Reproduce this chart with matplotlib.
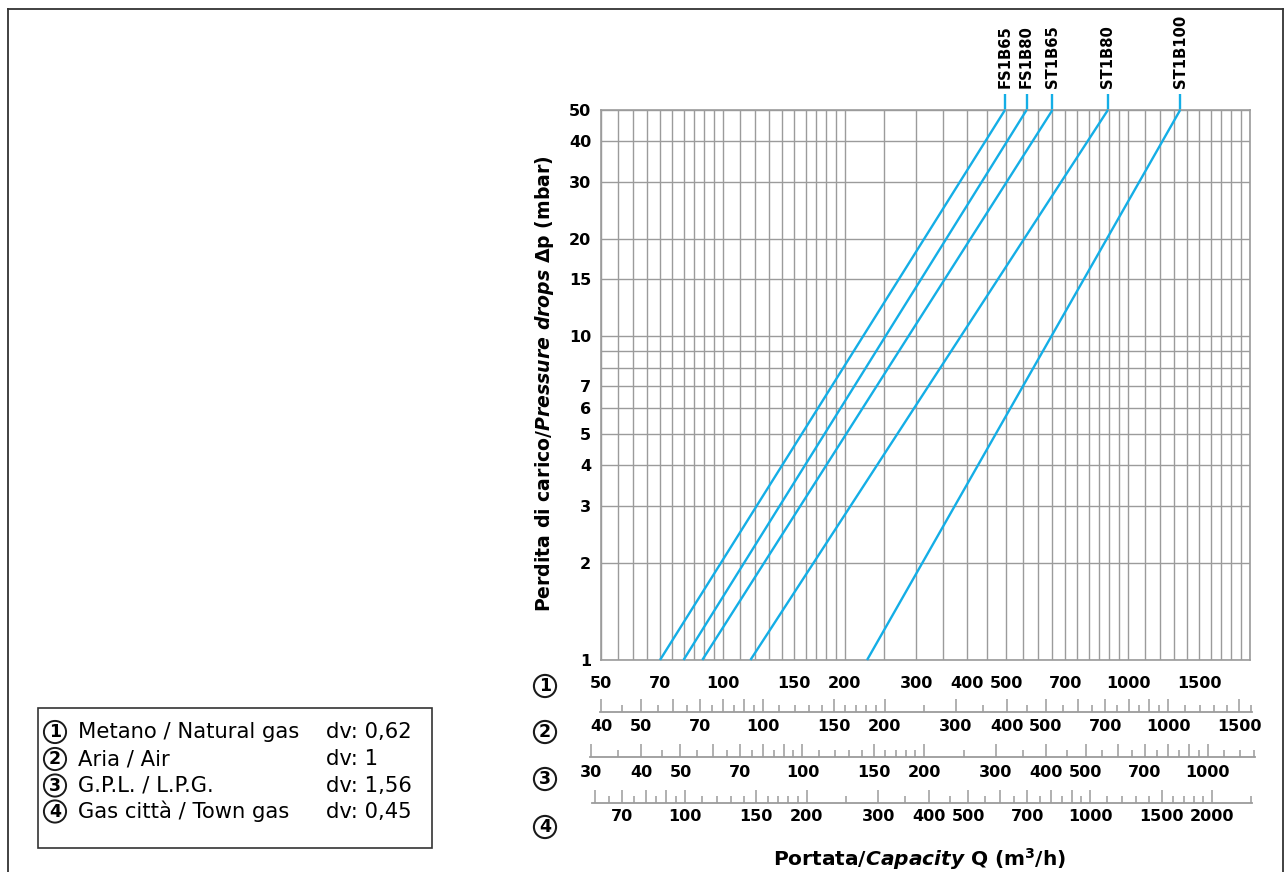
import matplotlib
matplotlib.use("Agg")
import matplotlib.pyplot as plt
from matplotlib.transforms import blended_transform_factory
from matplotlib.ticker import NullFormatter, NullLocator
from matplotlib.patches import Rectangle
from matplotlib.lines import Line2D

plt.rcParams["font.family"] = ["DejaVu Sans"]
plt.rcParams["mathtext.fontset"] = "custom"
plt.rcParams["mathtext.rm"] = "DejaVu Sans:bold"
plt.rcParams["mathtext.bf"] = "DejaVu Sans:bold"
plt.rcParams["mathtext.it"] = "DejaVu Sans:italic:bold"

# --- data -------------------------------------------------------------
models = ["FS1B65", "FS1B80", "ST1B65", "ST1B80", "ST1B100"]
q_at_1mbar = [70, 80, 89, 117, 227]        # m3/h natural gas at 1 mbar
q_at_50mbar = [497, 562, 651, 892, 1345]   # m3/h natural gas at 50 mbar
dp_ends = [1, 50]

dp_ticks = [1, 2, 3, 4, 5, 6, 7, 8, 9, 10, 15, 20, 30, 40, 50]
dp_labels = ["1", "2", "3", "4", "5", "6", "7", "", "", "10", "15", "20", "30", "40", "50"]

gas_names = ["Metano / Natural gas", "Aria / Air", "G.P.L. / L.P.G.", "Gas città / Town gas"]
gas_dv = ["0,62", "1", "1,56", "0,45"]
# flow of each gas for the same pressure drop, relative to natural gas
scale_factor = [1.0, 0.797, 0.636, 1.24]
scale_labels = [
    [50, 70, 100, 150, 200, 300, 400, 500, 700, 1000, 1500],
    [40, 50, 70, 100, 150, 200, 300, 400, 500, 700, 1000, 1500],
    [30, 40, 50, 70, 100, 150, 200, 300, 400, 500, 700, 1000],
    [70, 100, 150, 200, 300, 400, 500, 700, 1000, 1500, 2000],
]
major_mant = [1, 1.5, 2, 3, 4, 5, 6, 7, 8, 9]
minor_mant = [1.1, 1.2, 1.3, 1.4, 1.6, 1.7, 1.8, 1.9,
              2.5, 3.5, 4.5, 5.5, 6.5, 7.5, 8.5, 9.5]

q_grid = (list(range(50, 100, 5)) + list(range(100, 200, 10))
          + list(range(200, 1000, 50)) + list(range(1000, 2001, 100)))

# --- layout helpers (pixels of the 1287x872 picture) ------------------
W, H = 1287, 872
AX_L, AX_R, AX_T, AX_B = 600.8, 1250, 110, 660
QMIN, QMAX = 50, 2000
GRID = "#9b9b9b"
BLUE = "#14aee6"


def fx(px):
    return px / W


def fy(py):
    return 1 - py / H


def px_to_q(px):
    return QMIN * (QMAX / QMIN) ** ((px - AX_L) / (AX_R - AX_L))


fig = plt.figure(figsize=(W / 100, H / 100), dpi=100)

ax = fig.add_axes([fx(AX_L), fy(AX_B), (AX_R - AX_L) / W, (AX_B - AX_T) / H])
ax.set_xscale("log")
ax.set_yscale("log")
ax.set_xlim(QMIN, QMAX)
ax.set_ylim(dp_ends[0], dp_ends[1])
ax.set_xticks(q_grid)
ax.xaxis.set_major_formatter(NullFormatter())
ax.xaxis.set_minor_locator(NullLocator())
ax.set_yticks(dp_ticks, labels=dp_labels)
ax.yaxis.set_minor_locator(NullLocator())
ax.tick_params(length=0)
ax.tick_params(axis="y", pad=7, labelsize=11.5)
for lab in ax.get_yticklabels():
    lab.set_fontweight("bold")
ax.grid(True, color=GRID, lw=1.0)
for sp in ax.spines.values():
    sp.set_color(GRID)
    sp.set_linewidth(1.2)

trans = blended_transform_factory(ax.transData, ax.transAxes)
for name, q1, q50 in zip(models, q_at_1mbar, q_at_50mbar):
    ax.plot([q1, q50], dp_ends, color=BLUE, lw=1.7, clip_on=False,
            solid_capstyle="butt", zorder=3)
    ax.plot([q50, q50], [1, 1 + 16 / 550], color=BLUE, lw=1.7,
            transform=trans, clip_on=False, solid_capstyle="butt")
    ax.text(q50, 1 + 22 / 550, name, transform=trans, rotation=90,
            ha="center", va="bottom", fontsize=10.6, fontweight="bold")

# --- the four flow scales under the chart -----------------------------
row_rule_y = [AX_B, 712, 757, 802.5]
row_left = [AX_L, 600, 590, 592]
row_right = [AX_R, 1252, 1255, 1252]
row_pad = [11.5, 5.0, 5.5, 4.8]
row_num_y = [686, 732, 779, 827]

for i in range(4):
    L, R, y = row_left[i], row_right[i], row_rule_y[i]
    f = scale_factor[i]
    ra = fig.add_axes([fx(L), fy(y), (R - L) / W, 0.001])
    ra.set_xscale("log")
    lo, hi = px_to_q(L) * f, px_to_q(R) * f
    ra.set_xlim(lo, hi)
    ra.set_ylim(0, 1)
    ra.patch.set_visible(False)
    for s in ["left", "right", "top"]:
        ra.spines[s].set_visible(False)
    ra.set_yticks([])
    majors, minors = [], []
    for dec in [10, 100, 1000]:
        majors += [m * dec for m in major_mant if lo * 0.999 <= m * dec <= hi * 1.001]
        minors += [m * dec for m in minor_mant if lo <= m * dec <= hi]
    labels = [("%g" % v) if v in scale_labels[i] else "" for v in majors]
    ra.set_xticks(majors, labels=labels)
    ra.set_xticks(minors, minor=True)
    ra.xaxis.set_minor_formatter(NullFormatter())
    for lab in ra.get_xticklabels():
        lab.set_fontweight("bold")
    if i == 0:
        ra.spines["bottom"].set_visible(False)
        ra.tick_params(which="both", length=0, pad=row_pad[i], labelsize=11.5)
    else:
        ra.spines["bottom"].set_color(GRID)
        ra.spines["bottom"].set_linewidth(1.3)
        ra.tick_params(which="major", direction="in", length=9.5, width=1.1,
                       color=GRID, pad=row_pad[i], labelsize=11.5)
        ra.tick_params(which="minor", direction="in", length=5, width=1.1,
                       color=GRID)
    fig.text(fx(545), fy(row_num_y[i]), str(i + 1), ha="center", va="center",
             fontsize=12.5, fontweight="bold",
             bbox=dict(boxstyle="circle,pad=0.12", fc="none", ec="#1a1a1a", lw=1.5))

# --- axis titles -------------------------------------------------------
fig.text(fx(545), fy(384),
         r"$\mathbf{Perdita\ di\ carico/}\mathit{Pressure\ drops}\mathbf{\ \Delta p\ (mbar)}$",
         rotation=90, ha="center", va="center", fontsize=13.6)
fig.text(fx(920), fy(859),
         r"$\mathbf{Portata/}\mathit{Capacity}\mathbf{\ Q\ (m^3/h)}$",
         ha="center", va="center", fontsize=14.5)

# --- gas legend box -----------------------------------------------------
fig.add_artist(Rectangle((fx(38), fy(848)), (432 - 38) / W, (848 - 708) / H,
                         transform=fig.transFigure, fill=False, ec="#333333", lw=1.2))
leg_y = [732, 759, 785.5, 811.5]
for i in range(4):
    fig.text(fx(55), fy(leg_y[i]), str(i + 1), ha="center", va="center",
             fontsize=12.5, fontweight="bold",
             bbox=dict(boxstyle="circle,pad=0.12", fc="none", ec="#1a1a1a", lw=1.4))
    fig.text(fx(78), fy(leg_y[i]), gas_names[i], ha="left", va="center", fontsize=15.2)
    fig.text(fx(326), fy(leg_y[i]), "dv: " + gas_dv[i], ha="left", va="center", fontsize=15.2)

# outer frame
for xs, ys in [([8, 1283], [9, 9]), ([8, 8], [9, 872]), ([1283, 1283], [9, 872])]:
    fig.add_artist(Line2D([fx(v) for v in xs], [fy(v) for v in ys],
                          transform=fig.transFigure, color="#333333", lw=1.3))

fig.savefig("out.png", dpi=100)
